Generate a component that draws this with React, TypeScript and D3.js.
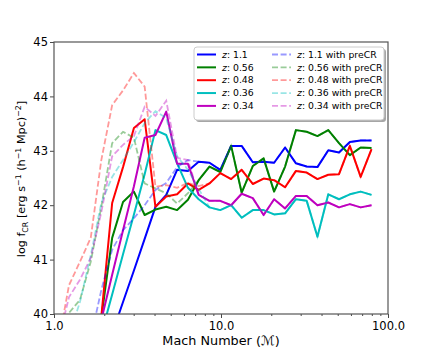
import React, { useRef, useEffect } from 'react';
import * as d3 from 'd3';

// Mach number bins (log spaced)
const MACH = [1.06, 1.23, 1.43, 1.66, 1.92, 2.23, 2.59, 3.01, 3.49, 4.05, 4.70, 5.46, 6.34, 7.35, 8.53,
  9.90, 11.5, 13.3, 15.5, 18.0, 20.8, 24.2, 28.1, 32.6, 37.8, 43.9, 50.9, 59.1, 68.6, 79.7];

// log f_CR, solid lines
const Z110 = [null, null, null, null, null, 39.64, 40.22, 40.80, 41.38, 41.97, 42.19, 42.65, 42.63, 42.80, 42.78,
  42.65, 43.09, 43.09, 42.79, 42.80, 42.78, 43.06, 42.77, 42.71, 42.70, 43.01, 42.97, 43.16, 43.19, 43.19];
const Z056 = [null, null, null, null, 39.93, 41.40, 42.06, 42.25, 41.82, 41.92, 41.97, 41.91, 42.10, 42.46, 42.71,
  42.61, 43.09, 42.23, 42.72, 42.86, 42.25, 42.71, 43.38, 43.35, 43.27, 43.38, 43.14, 42.92, 43.06, 43.05];
const Z048 = [null, null, null, null, 39.95, 42.04, 42.70, 43.42, 43.58, 41.97, 42.16, 42.20, 42.40, 42.28, 42.40,
  42.59, 42.48, 42.65, 42.39, 42.49, 42.46, 42.33, 42.63, 42.60, 42.48, 42.56, 42.57, 43.09, 42.52, 43.03];
const Z036 = [null, null, null, null, 39.63, 40.36, 41.10, 41.83, 42.57, 43.38, 43.29, 42.77, 42.32, 42.11, 41.96,
  41.91, 42.00, 41.77, 41.91, 41.91, 41.83, 41.85, 42.11, 42.08, 41.42, 42.20, 42.11, 42.20, 42.25, 42.19];
const Z034 = [null, null, null, null, 39.89, 40.72, 41.54, 42.35, 43.24, 43.29, 43.72, 42.76, 42.76, 42.19, 42.08,
  42.08, 42.00, 42.21, 42.13, 41.82, 42.11, 41.94, 42.17, 42.17, 42.00, 42.05, 41.96, 42.02, 41.96, 42.00];

// log f_CR with preCR, dashed lines
const Z110_PRE = [null, null, null, 39.56, 40.44, 41.18, 41.54, 41.76, 42.00, 42.28, 42.41, 42.70, 42.83, 42.80, 42.78,
  42.65, 43.09, 43.09, 42.79, 42.80, 42.78, 43.06, 42.77, 42.71, 42.70, 43.01, 42.97, 43.16, 43.19, 43.19];
const Z056_PRE = [39.60, 40.02, 40.26, 40.96, 41.97, 43.14, 43.35, 43.24, 42.40, 42.31, 42.22, 42.03, 42.22, 42.46, 42.71,
  42.61, 43.09, 42.23, 42.72, 42.86, 42.25, 42.71, 43.38, 43.35, 43.27, 43.38, 43.14, 42.92, 43.06, 43.05];
const Z048_PRE = [39.45, 40.53, 40.96, 41.40, 42.83, 43.84, 44.11, 44.43, 44.18, 42.34, 42.37, 42.32, 42.41, 42.35, 42.40,
  42.59, 42.48, 42.65, 42.39, 42.49, 42.46, 42.33, 42.63, 42.60, 42.48, 42.56, 42.57, 43.09, 42.52, 43.03];
const Z036_PRE = [null, 39.60, 40.22, 41.08, 42.04, 42.52, 42.83, 43.16, 43.51, 43.73, 43.60, 42.90, 42.65, 42.30, 41.96,
  41.91, 42.00, 41.77, 41.91, 41.91, 41.83, 41.85, 42.11, 42.08, 41.42, 42.20, 42.11, 42.20, 42.25, 42.19];
const Z034_PRE = [39.50, 40.31, 40.63, 41.03, 41.87, 42.90, 43.11, 43.27, 43.81, 43.64, 43.92, 42.87, 42.83, 42.19, 42.08,
  42.08, 42.00, 42.21, 42.13, 41.82, 42.11, 41.94, 42.17, 42.17, 42.00, 42.05, 41.96, 42.02, 41.96, 42.00];

const REDSHIFTS = ['1.1', '0.56', '0.48', '0.36', '0.34'];
const COLORS = ['#0000ff', '#008000', '#ff0000', '#00bfbf', '#bf00bf'];
const SOLID = [Z110, Z056, Z048, Z036, Z034];
const DASHED = [Z110_PRE, Z056_PRE, Z048_PRE, Z036_PRE, Z034_PRE];

const X_TICKS = [1, 10, 100];
const X_MINOR = [2, 3, 4, 5, 6, 7, 8, 9, 20, 30, 40, 50, 60, 70, 80, 90];
const Y_TICKS = [40, 41, 42, 43, 44, 45];

const FONT = 'DejaVu Sans';

export default function App() {
  const svgRef = useRef<SVGSVGElement>(null);

  useEffect(() => {
    const W = 432;
    const H = 353;
    const margin = { top: 42, right: 44, bottom: 39, left: 54 };
    const innerW = W - margin.left - margin.right;
    const innerH = H - margin.top - margin.bottom;

    const svg = d3.select(svgRef.current).attr('width', W).attr('height', H);
    svg.selectAll('*').remove();
    svg.append('rect').attr('width', W).attr('height', H).attr('fill', '#fff');

    const g = svg.append('g').attr('transform', `translate(${margin.left},${margin.top})`);

    const x = d3.scaleLog().domain([1, 100]).range([0, innerW]);
    const y = d3.scaleLinear().domain([40, 45]).range([innerH, 0]);

    svg.append('defs').append('clipPath').attr('id', 'plot-clip')
      .append('rect').attr('width', innerW).attr('height', innerH);

    const line = d3.line<number | null>()
      .defined((d) => d !== null)
      .x((_, i) => x(MACH[i]))
      .y((d) => y(d as number));

    const lines = g.append('g').attr('clip-path', 'url(#plot-clip)');

    SOLID.forEach((vals, i) => {
      lines.append('path')
        .attr('d', line(vals))
        .attr('fill', 'none')
        .attr('stroke', COLORS[i])
        .attr('stroke-width', 2)
        .attr('stroke-linejoin', 'round');
    });
    DASHED.forEach((vals, i) => {
      lines.append('path')
        .attr('d', line(vals))
        .attr('fill', 'none')
        .attr('stroke', COLORS[i])
        .attr('stroke-opacity', 0.4)
        .attr('stroke-width', 1.8)
        .attr('stroke-dasharray', '6,2.6');
    });

    // axes
    const xAxis = g.append('g')
      .attr('transform', `translate(0,${innerH})`)
      .call(d3.axisBottom(x).tickValues(X_TICKS).tickFormat(d3.format('.1f')).tickSize(4).tickPadding(3.5));
    xAxis.selectAll('text').attr('font-family', FONT).attr('font-size', 11.5).attr('fill', '#000');

    g.append('g')
      .attr('transform', `translate(0,${innerH})`)
      .call(d3.axisBottom(x).tickValues(X_MINOR).tickFormat(() => '').tickSize(2));

    const yAxis = g.append('g')
      .call(d3.axisLeft(y).tickValues(Y_TICKS).tickFormat(d3.format('d')).tickSize(4).tickPadding(2));
    yAxis.selectAll('text').attr('font-family', FONT).attr('font-size', 11.5).attr('fill', '#000');

    g.selectAll('.domain').remove();
    g.selectAll('.tick line').attr('stroke', '#333').attr('stroke-width', 0.9);

    g.append('rect')
      .attr('width', innerW)
      .attr('height', innerH)
      .attr('fill', 'none')
      .attr('stroke', '#555')
      .attr('stroke-width', 1.2);

    // axis labels
    const xl = g.append('text')
      .attr('x', innerW / 2)
      .attr('y', innerH + 31)
      .attr('text-anchor', 'middle')
      .attr('font-family', FONT)
      .attr('font-size', 12.8);
    xl.append('tspan').text('Mach Number (');
    xl.append('tspan').attr('font-style', 'italic').text('ℳ');
    xl.append('tspan').text(')');

    const yl = svg.append('text')
      .attr('transform', `translate(25,${margin.top + innerH / 2 + 1}) rotate(-90)`)
      .attr('text-anchor', 'middle')
      .attr('font-family', FONT)
      .attr('font-size', 11.2);
    const part = (t: string, dy = 0, small = false) =>
      yl.append('tspan').attr('dy', dy).attr('font-size', small ? 7.9 : 11.2).text(t);
    part('log f');
    part('CR', 2.5, true);
    part(' [erg s', -2.5);
    part('−1', -4.5, true);
    part(' (h', 4.5);
    part('−1', -4.5, true);
    part(' Mpc)', 4.5);
    part('−2', -4.5, true);
    part(']', 4.5);

    // legend
    const lg = svg.append('g').attr('transform', 'translate(194,47)');
    lg.append('rect').attr('x', 2).attr('y', 2).attr('width', 190).attr('height', 73)
      .attr('rx', 3).attr('fill', '#000').attr('fill-opacity', 0.35);
    lg.append('rect').attr('width', 190).attr('height', 73)
      .attr('rx', 3).attr('fill', '#fff').attr('stroke', '#ccc').attr('stroke-width', 1);

    REDSHIFTS.forEach((zs, i) => {
      const ry = 7.5 + i * 12.85;
      [0, 1].forEach((col) => {
        const x0 = col === 0 ? 3 : 78;
        lg.append('line')
          .attr('x1', x0).attr('x2', x0 + 19).attr('y1', ry).attr('y2', ry)
          .attr('stroke', COLORS[i])
          .attr('stroke-width', col === 0 ? 2 : 1.8)
          .attr('stroke-opacity', col === 0 ? 1 : 0.4)
          .attr('stroke-dasharray', col === 0 ? null : '6,2.6');
        const t = lg.append('text')
          .attr('x', x0 + 25)
          .attr('y', ry)
          .attr('dy', '0.35em')
          .attr('font-family', FONT)
          .attr('font-size', 9.3);
        t.append('tspan').attr('font-style', 'italic').text('z');
        t.append('tspan').text(`: ${zs}${col === 1 ? ' with preCR' : ''}`);
      });
    });
  }, []);

  return (
    <svg ref={svgRef} style={{ position: 'absolute', left: 0, top: 0, display: 'block' }} />
  );
}
